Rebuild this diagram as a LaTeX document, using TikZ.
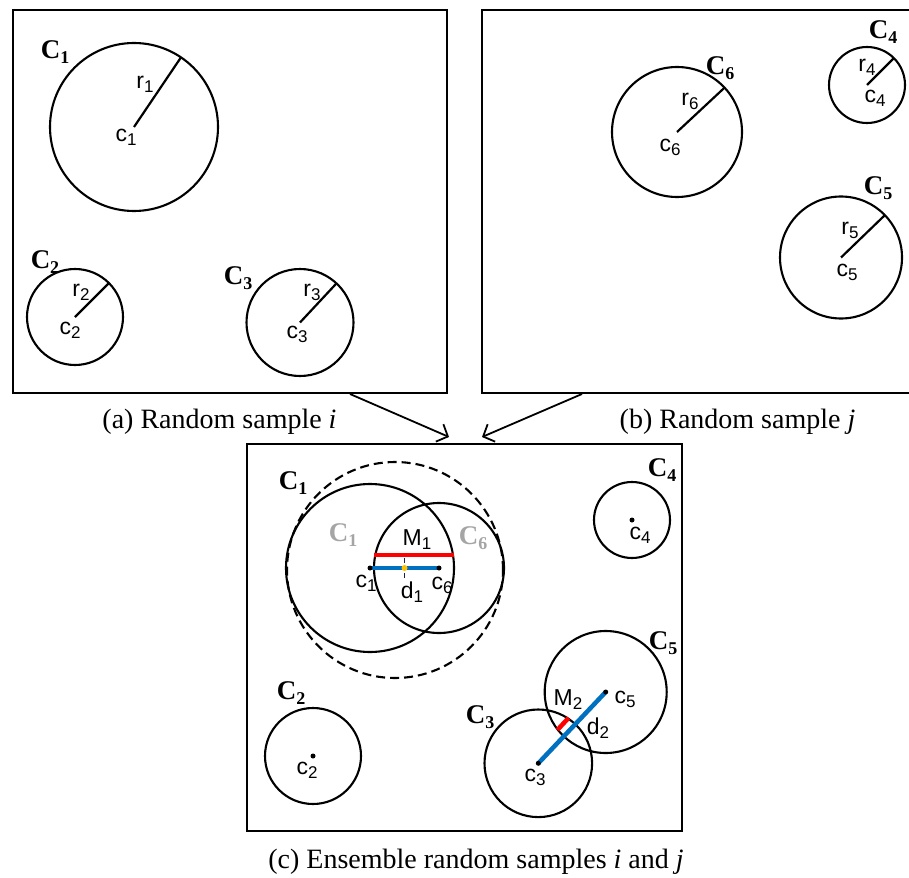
\documentclass[tikz,border=0pt]{standalone}
\usepackage{fontspec}
\setmainfont{Liberation Serif}
\newfontfamily\arialf{Liberation Sans}
\usetikzlibrary{arrows.meta,calc}
\definecolor{myblue}{RGB}{0,112,192}
\definecolor{myred}{RGB}{255,0,0}
\definecolor{myorange}{RGB}{255,192,0}
\definecolor{mygray}{RGB}{165,165,165}
\definecolor{mynavy}{RGB}{20,30,80}
\newcommand\bigC[1]{{\fontsize{27}{27}\selectfont\bfseries C\raisebox{-0.2em}{\fontsize{18}{18}\selectfont #1}}}
\newcommand\sfl[2]{{\arialf\fontsize{23}{23}\selectfont #1\raisebox{-0.18em}{\fontsize{17}{17}\selectfont #2}}}
\begin{document}
\begin{tikzpicture}[x=1pt,y=-1pt,
  frame/.style={line width=2.4pt},
  circ/.style={draw,circle,line width=2.1pt,inner sep=0pt,outer sep=0pt,minimum size=#1},
  rad/.style={line width=2.2pt},
  lab/.style={inner sep=0pt},
  capt/.style={inner sep=0pt,anchor=base,font=\fontsize{28}{28}\selectfont},
  dotc/.style={circle,fill=black,inner sep=0pt,minimum size=5pt},
  arr/.style={line width=1.8pt,-{Straight Barb[length=9pt,width=19pt,line width=1.8pt]}}]
\useasboundingbox (0,0) rectangle (909,877);
% frames
\draw[frame] (13,10) rectangle (447,393);
\draw[frame] (915,10) -- (482,10) -- (482,393) -- (915,393);
\draw[frame] (247,444) rectangle (682,831);
\coordinate (fa) at (350,394);
\coordinate (fb) at (582,394);
\coordinate (ta) at (449,437);
\coordinate (tb) at (482,437);
\draw[arr] (fa) -- (ta);
\draw[arr] (fb) -- (tb);
% captions
\node[capt] (capa) at (219.5,428) {(a) Random sample \textit{i}};
\node[capt] (capb) at (737.5,428) {(b) Random sample \textit{j}};
\node[capt] (capc) at (476,868) {(c) Ensemble random samples \textit{i} and \textit{j}};
% panel (a)
\node[circ=168pt] (A1) at (134,127) {};
\draw[rad] (A1.center) -- (A1.56);
\node[lab] (LA1) at (55,52) {\bigC{1}};
\node[lab] (rA1) at (145,84) {\sfl{r}{1}};
\node[lab] (cA1) at (126,137) {\sfl{c}{1}};
\node[circ=96pt] (A2) at (75,317) {};
\draw[rad] (A2.center) -- (A2.45);
\node[lab] (LA2) at (45,262) {\bigC{2}};
\node[lab] (rA2) at (81,292) {\sfl{r}{2}};
\node[lab] (cA2) at (70,330) {\sfl{c}{2}};
\node[circ=107pt] (A3) at (300,322.5) {};
\draw[rad] (A3.center) -- (A3.47);
\node[lab] (LA3) at (238,278) {\bigC{3}};
\node[lab] (rA3) at (312,292) {\sfl{r}{3}};
\node[lab] (cA3) at (297,334) {\sfl{c}{3}};
% panel (b)
\node[circ=130pt] (B6) at (677,132) {};
\draw[rad] (B6.center) -- (B6.43);
\node[lab] (LB6) at (720,68) {\bigC{6}};
\node[lab] (rB6) at (690,101) {\sfl{r}{6}};
\node[lab] (cB6) at (670,147) {\sfl{c}{6}};
\node[circ=76pt] (B4) at (867,85) {};
\draw[rad] (B4.center) -- (B4.45);
\node[lab] (LB4) at (883,32) {\bigC{4}};
\node[lab] (rB4) at (867,67) {\sfl{r}{4}};
\node[lab] (cB4) at (875,98) {\sfl{c}{4}};
\node[circ=122pt] (B5) at (841,257.5) {};
\draw[rad] (B5.center) -- (B5.44);
\node[lab] (LB5) at (878,188) {\bigC{5}};
\node[lab] (rB5) at (850,230) {\sfl{r}{5}};
\node[lab] (cB5) at (847,272) {\sfl{c}{5}};
% panel (c)
\node[circ=216pt,dashed,dash pattern=on 9pt off 5pt] (DE) at (395,570) {};
\node[circ=168pt] (D1) at (370,568) {};
\node[circ=130pt] (D6) at (439,568) {};
\draw[myred,line width=4.5pt] ($(D6.west)+(0,-13)$) -- ($(D1.east)+(0,-13)$);
\draw[myblue,line width=4.5pt] (D1.center) -- (D6.center);
\coordinate (mid1) at ($(D1.center)!0.5!(D6.center)$);
\draw[mynavy,line width=1.6pt,dash pattern=on 5pt off 2.5pt] ($(mid1)+(0,-10)$) -- ($(mid1)+(0,10)$);
\node[circle,fill=myorange,inner sep=0pt,minimum size=6pt] (o1) at (mid1) {};
\node[dotc] (d1c) at (D1.center) {};
\node[dotc] (d6c) at (D6.center) {};
\node[lab] (LD1) at (293,483) {\bigC{1}};
\node[lab,text=mygray] (GD1) at (343,535) {\bigC{1}};
\node[lab,text=mygray] (GD6) at (473,538) {\bigC{6}};
\node[lab] (M1) at (417,540) {\sfl{M}{1}};
\node[lab] (cD1) at (366,583) {\sfl{c}{1}};
\node[lab] (dD1) at (412,592) {\sfl{d}{1}};
\node[lab] (cD6) at (442,585) {\sfl{c}{6}};
\node[circ=76pt] (D4) at (632,520) {};
\node[dotc] (d4c) at (D4.center) {};
\node[lab] (LD4) at (662,470) {\bigC{4}};
\node[lab] (cD4) at (640,535) {\sfl{c}{4}};
\node[circ=122pt] (D5) at (605.7,692) {};
\node[circ=107.6pt] (D3) at (538.3,763.3) {};
\coordinate (m2a) at (557.5,729.8);
\coordinate (m2b) at (568.6,717.9);
\draw[myred,line width=4.5pt] (m2a) -- (m2b);
\draw[myblue,line width=4.5pt] (D3.center) -- (D5.center);
\node[dotc] (d3c) at (D3.center) {};
\node[dotc] (d5c) at (D5.center) {};
\node[lab] (LD5) at (663,643) {\bigC{5}};
\node[lab] (LD3) at (480,717) {\bigC{3}};
\node[lab] (M2) at (568,700) {\sfl{M}{2}};
\node[lab] (cD5) at (625,699) {\sfl{c}{5}};
\node[lab] (dD2) at (598,728) {\sfl{d}{2}};
\node[lab] (cD3) at (535,777) {\sfl{c}{3}};
\node[circ=96pt] (D2) at (313,756) {};
\node[dotc] (d2c) at (D2.center) {};
\node[lab] (LD2) at (291,693) {\bigC{2}};
\node[lab] (cD2) at (307,770) {\sfl{c}{2}};
\end{tikzpicture}
\end{document}
